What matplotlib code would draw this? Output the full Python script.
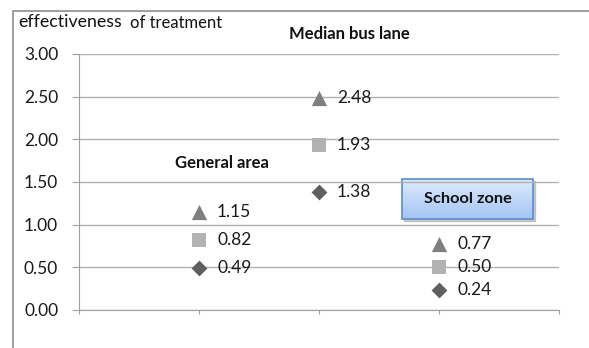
import numpy as np
import matplotlib.pyplot as plt
from matplotlib.patches import Rectangle

plt.rcParams['font.family'] = ['Lato', 'DejaVu Sans']

# Treatment areas and effectiveness values per marker series
areas = ["General area", "Median bus lane", "School zone"]
upper = [1.15, 2.48, 0.77]   # triangles
middle = [0.82, 1.93, 0.50]  # squares
lower = [0.49, 1.38, 0.24]   # diamonds
yticks = [0.0, 0.5, 1.0, 1.5, 2.0, 2.5, 3.0]

W, H = 589, 348
FS = 12.5
fig = plt.figure(figsize=(W / 100, H / 100), dpi=100)

# outer chart frame
frame = fig.add_axes([0, 0, 1, 1], zorder=0)
frame.set_xlim(0, W)
frame.set_ylim(H, 0)
frame.axis('off')
frame.plot([13, 13, W], [H, 11, 11], color='#8c8c8c', lw=1.2)

ax = fig.add_axes([79 / W, 1 - 310 / H, 480 / W, 256 / H], zorder=1)
ax.patch.set_alpha(0)
x = np.arange(1, len(areas) + 1)
ax.set_xlim(0, 4)
ax.set_ylim(0, 3)
ax.set_yticks(yticks)
ax.set_yticklabels([f"{v:.2f}" for v in yticks], fontsize=FS, color='#1a1a1a')
ax.set_xticks([0, 1, 2, 3, 4])
ax.set_xticklabels([])
ax.grid(axis='y', color='#b0b0b0', lw=1.0)
ax.set_axisbelow(True)
for s in ['top', 'right']:
    ax.spines[s].set_visible(False)
ax.spines['left'].set_color('#a0a0a0')
ax.spines['bottom'].set_color('#a0a0a0')
ax.tick_params(axis='y', length=5, color='#a0a0a0', pad=10)
ax.tick_params(axis='x', length=3, color='#a0a0a0', direction='out')

ax.scatter(x, upper, marker='^', s=120, color='#7f7f7f', zorder=3, lw=0)
ax.scatter(x, middle, marker='s', s=100, color='#b2b2b2', zorder=3, lw=0)
ax.scatter(x, lower, marker='D', s=65, color='#5f5f5f', zorder=3, lw=0)

for series in (upper, middle, lower):
    for xi, v in zip(x, series):
        ax.annotate(f"{v:.2f}", (xi, v), xytext=(13, 0), textcoords='offset points',
                    va='center', ha='left', fontsize=FS, color='#1a1a1a', zorder=4)

# category titles
frame.text(222, 163, areas[0], fontsize=12, fontweight='bold', ha='center', va='center', color='#111111')
frame.text(349, 34, areas[1], fontsize=12, fontweight='bold', ha='center', va='center', color='#111111')

# School zone callout box with gradient fill
bx0, by0, bx1, by1 = 402, 179, 533, 219
shadow = Rectangle((bx0 + 2, by0 + 2), bx1 - bx0, by1 - by0, color='#9a9a9a', alpha=0.5, zorder=5)
frame.add_patch(shadow)
grad = np.linspace(0, 1, 64)[:, None]
c_top = np.array([0.87, 0.92, 0.99])
c_bot = np.array([0.64, 0.77, 0.96])
img = c_top + (c_bot - c_top) * grad[..., None]
img = np.repeat(img, 2, axis=1)
frame.imshow(img, extent=[bx0, bx1, by1, by0], aspect='auto', zorder=6)
frame.add_patch(Rectangle((bx0, by0), bx1 - bx0, by1 - by0, fill=False, ec='#5b8bd0', lw=1.2, zorder=7))
frame.text((bx0 + bx1) / 2, (by0 + by1) / 2, areas[2], fontsize=11.8, fontweight='bold',
           ha='center', va='center', color='#111111', zorder=8)
frame.set_xlim(0, W)
frame.set_ylim(H, 0)

# axis title
frame.text(18, 22, "effectiveness", fontsize=12.8, ha='left', va='center', color='#111111')
frame.text(130, 23, "of treatment", fontsize=12, ha='left', va='center', color='#111111')

fig.savefig("out.png", dpi=100)
